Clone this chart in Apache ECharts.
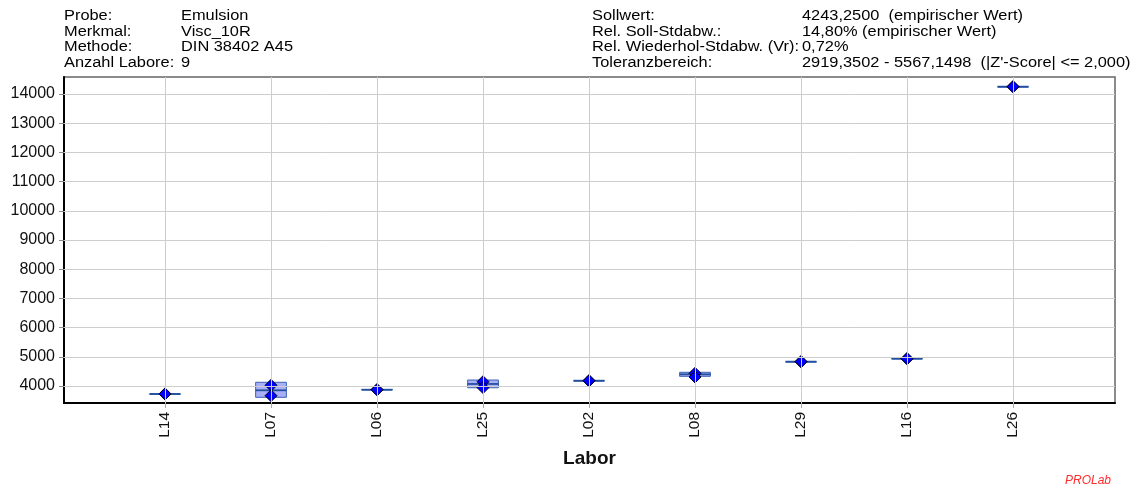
<!DOCTYPE html>
<html>
<head>
<meta charset="utf-8">
<script src="https://cdn.jsdelivr.net/npm/echarts@6/dist/echarts.min.js"></script>
<style>
  html, body { margin: 0; padding: 0; background: #fff; }
  #chart { width: 1145px; height: 489px; }
</style>
</head>
<body>
<div id="chart"></div>
<script>
// Laboratories in plotted order
const labs = ['L14', 'L07', 'L06', 'L25', 'L02', 'L08', 'L29', 'L16', 'L26'];
// Replicate results per laboratory
const rep1 = [3726, 4024, 3873, 4147, 4182, 4435, 4832, 4935, 14250];
const rep2 = [3730, 3668, 3876, 3945, 4180, 4308, 4835, 4938, 14252];
// Box extent and median per laboratory
const boxLow  = [3726, 3613, 3866, 3940, 4180, 4332, 4832, 4930, 14250];
const boxHigh = [3730, 4127, 3880, 4205, 4184, 4469, 4835, 4942, 14252];
const median  = [3728, 3853, 3873, 4070, 4182, 4400, 4834, 4936, 14251];
// Value axis ticks
const yTicks = [4000, 5000, 6000, 7000, 8000, 9000, 10000, 11000, 12000, 13000, 14000];

// Header lines: [label, value]
const headLeft = [
  ['Probe:', 'Emulsion'],
  ['Merkmal:', 'Visc_10R'],
  ['Methode:', 'DIN 38402 A45'],
  ['Anzahl Labore:', '9']
];
const headRight = [
  ['Sollwert:', '4243,2500  (empirischer Wert)'],
  ['Rel. Soll-Stdabw.:', '14,80% (empirischer Wert)'],
  ['Rel. Wiederhol-Stdabw. (Vr):', '0,72%'],
  ['Toleranzbereich:', '2919,3502 - 5567,1498  (|Z\'-Score| <= 2,000)']
];

const FONT = '"Liberation Sans", Arial, sans-serif';
const HEAD_FONT = '14px ' + FONT;
const HEAD_SCALE = 1.17;
const xPos = labs.map((_, i) => i + 1);

function headText(x, y, text) {
  return {
    type: 'text', x: x, y: y, scaleX: HEAD_SCALE,
    style: { text: text, font: HEAD_FONT, fill: '#000', verticalAlign: 'middle' }
  };
}

const headerGraphics = [];
const lineY = [16.5, 32, 47.5, 63];
headLeft.forEach((row, i) => {
  headerGraphics.push(headText(64, lineY[i], row[0]));
  headerGraphics.push(headText(181, lineY[i], row[1]));
});
headRight.forEach((row, i) => {
  headerGraphics.push(headText(592, lineY[i], row[0]));
  headerGraphics.push(headText(802, lineY[i], row[1]));
});
headerGraphics.push({ type: 'text', x: 589.5, y: 459, style: { text: 'Labor', font: 'bold 19px ' + FONT, fill: '#111', align: 'center', verticalAlign: 'middle' } });
headerGraphics.push({ type: 'text', x: 1111, y: 481, style: { text: 'PROLab', font: 'italic 12px ' + FONT, fill: '#ff2a2a', align: 'right', verticalAlign: 'middle' } });

const chart = echarts.init(document.getElementById('chart'), null, { renderer: 'canvas' });

const boxData = labs.map((_, i) => [xPos[i], boxLow[i], boxHigh[i], median[i]]);
const pointData = [];
labs.forEach((_, i) => {
  pointData.push([xPos[i], rep1[i]]);
  pointData.push([xPos[i], rep2[i]]);
});

chart.setOption({
  animation: false,
  backgroundColor: '#fff',
  grid: {
    left: 64, right: 30, top: 77, bottom: 86,
    show: true, borderColor: '#666', borderWidth: 1.5, backgroundColor: 'transparent'
  },
  xAxis: {
    type: 'value', min: 0.047, max: 9.962,
    axisLine: { show: true, onZero: false, lineStyle: { color: '#000', width: 2 } },
    axisTick: { show: true, customValues: xPos, length: 5, lineStyle: { color: '#aaa' } },
    axisLabel: {
      customValues: xPos, rotate: 90, margin: 9,
      formatter: v => labs[Math.round(v) - 1] || '',
      fontFamily: FONT, fontSize: 15.5, color: '#111'
    },
    splitLine: { show: false }
  },
  yAxis: {
    type: 'value', min: 3418, max: 14582,
    axisLine: { show: true, onZero: false, lineStyle: { color: '#000', width: 2 } },
    axisTick: { show: true, customValues: yTicks, length: 5, lineStyle: { color: '#888' } },
    axisLabel: {
      customValues: yTicks, margin: 9, formatter: v => String(v),
      fontFamily: FONT, fontSize: 16, color: '#111'
    },
    splitLine: { show: false }
  },
  graphic: headerGraphics,
  series: [
    {
      // grid lines at the ticks and categories
      type: 'scatter', z: 1, silent: true,
      data: [[xPos[0], yTicks[0]]], symbolSize: 0,
      markLine: {
        silent: true, symbol: 'none', label: { show: false },
        lineStyle: { color: '#cdcdcd', width: 1, type: 'solid' },
        data: yTicks.map(v => ({ yAxis: v })).concat(xPos.map(v => ({ xAxis: v })))
      }
    },
    {
      // replicate boxes with median line
      type: 'custom', z: 3, silent: true,
      data: boxData,
      renderItem: function (params, api) {
        const x = api.value(0);
        const lo = api.coord([x, api.value(1)]);
        const hi = api.coord([x, api.value(2)]);
        const md = api.coord([x, api.value(3)]);
        const half = api.size([0.29, 0])[0] / 2;
        return {
          type: 'group',
          children: [
            {
              type: 'rect',
              shape: { x: lo[0] - half, y: hi[1], width: half * 2, height: Math.max(lo[1] - hi[1], 0.5) },
              style: { fill: 'rgba(140,150,245,0.75)', stroke: '#3b62b4', lineWidth: 1 }
            },
            {
              type: 'line',
              shape: { x1: md[0] - half, y1: md[1], x2: md[0] + half, y2: md[1] },
              style: { stroke: '#24509f', lineWidth: 1.8 }
            }
          ]
        };
      }
    },
    {
      // individual results as diamonds
      type: 'custom', z: 4, silent: true,
      data: pointData,
      renderItem: function (params, api) {
        const p = api.coord([api.value(0), api.value(1)]);
        const r = 6;
        return {
          type: 'polygon',
          shape: { points: [[p[0], p[1] - r], [p[0] + r, p[1]], [p[0], p[1] + r], [p[0] - r, p[1]]] },
          style: { fill: '#0000ff', stroke: '#000', lineWidth: 0.9 }
        };
      }
    }
  ]
});
</script>
</body>
</html>
